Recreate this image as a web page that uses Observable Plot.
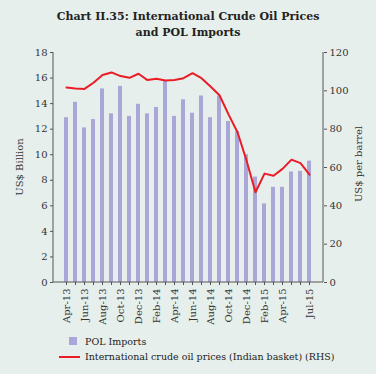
<!DOCTYPE html>
<html><head><meta charset="utf-8">
<script src="https://cdn.jsdelivr.net/npm/d3@7"></script>
<script src="https://cdn.jsdelivr.net/npm/@observablehq/plot@0.6"></script>
<style>
body{margin:0;background:#e7efec;}
#wrap{width:376px;height:374px;position:relative;background:#e7efec;font-family:"DejaVu Serif",serif;color:#222;overflow:hidden;}
#title{height:44px;box-sizing:border-box;padding-top:9px;text-align:center;font-weight:bold;font-size:11px;line-height:16px;}
#chart svg{display:block;}
.leg{position:absolute;left:85px;font-size:9.5px;line-height:12px;white-space:nowrap;}
.sw{position:absolute;}
.ylab{position:absolute;font-size:10px;line-height:12px;white-space:nowrap;transform:translate(-50%,-50%) rotate(-90deg);color:#333;}
</style>
</head><body>
<div id="wrap">
<div id="title">Chart II.35: International Crude Oil Prices<br>and POL Imports</div>
<div id="chart"></div>
<div class="ylab" style="left:20px;top:167px;">US$ Billion</div>
<div class="ylab" style="left:359px;top:164px;">US$ per barrel</div>
<div class="sw" style="left:69px;top:337px;width:8px;height:8px;background:#aaa7d8;"></div>
<div class="leg" style="top:336px;">POL Imports</div>
<div class="sw" style="left:59px;top:356px;width:21px;height:2px;background:#ea1c26;"></div>
<div class="leg" style="top:351px;">International crude oil prices (Indian basket) (RHS)</div>
</div>
<script>
const months = ["Apr-13","May-13","Jun-13","Jul-13","Aug-13","Sep-13","Oct-13","Nov-13","Dec-13","Jan-14","Feb-14","Mar-14",
"Apr-14","May-14","Jun-14","Jul-14","Aug-14","Sep-14","Oct-14","Nov-14","Dec-14","Jan-15","Feb-15","Mar-15","Apr-15","May-15","Jun-15","Jul-15"];
const polImports = [12.9,14.1,12.1,12.75,15.15,13.2,15.35,13.0,13.95,13.2,13.7,15.75,13.0,14.3,13.25,14.6,12.9,14.6,12.6,11.8,10.0,8.25,6.15,7.45,7.45,8.65,8.7,9.5];
const crudePrice = [101.7,101.2,101.0,104.2,108.3,109.6,107.7,106.8,108.9,105.6,106.3,105.4,105.6,106.6,109.2,106.6,102.3,97.7,87.7,78.4,63.7,47.1,56.8,55.7,59.3,64.1,62.3,56.3];
const tickLabels = ["Apr-13","Jun-13","Aug-13","Oct-13","Dec-13","Feb-14","Apr-14","Jun-14","Aug-14","Oct-14","Dec-14","Feb-15","Apr-15","Jul-15"];
const leftTicks = [0,2,4,6,8,10,12,14,16,18];
const rightTicks = [0,20,40,60,80,100,120];

const k = 18/120;
const data = months.map((m,i)=>({month:m, pol:polImports[i], price:crudePrice[i]}));

const chart = Plot.plot({
  width:376, height:290,
  marginLeft:53, marginRight:53, marginTop:8, marginBottom:52,
  style:{fontFamily:"DejaVu Serif", fontSize:"10px", background:"transparent", color:"#333"},
  x:{domain:months, paddingInner:0.55, paddingOuter:0.45},
  y:{domain:[0,18]},
  marks:[
    Plot.barY(data,{x:"month", y:"pol", fill:"#aaa7d8"}),
    Plot.lineY(data,{x:"month", y:d=>d.price*k, stroke:"#ea1c26", strokeWidth:2}),
    Plot.axisX({ticks:months, tickFormat:d=>tickLabels.includes(d)?d:"", tickRotate:-90, tickSize:3, tickPadding:3, label:null, stroke:"#555"}),
    Plot.axisY({anchor:"left", ticks:leftTicks, tickSize:3, tickPadding:3, label:null, stroke:"#555"}),
    Plot.axisY({anchor:"right", ticks:rightTicks.map(t=>t*k), tickFormat:d=>Math.round(d/k), tickSize:3, tickPadding:3, label:null, stroke:"#555"})
  ]
});
const sx = chart.scale("x"), sy = chart.scale("y");
const svg = d3.select(chart);
const [x0,x1] = sx.range, [y0,y1] = sy.range;
svg.append("line").attr("x1",x0).attr("x2",x0).attr("y1",y0).attr("y2",y1).attr("stroke","#555");
svg.append("line").attr("x1",x1).attr("x2",x1).attr("y1",y0).attr("y2",y1).attr("stroke","#555");
svg.append("line").attr("x1",x0).attr("x2",x1).attr("y1",y0).attr("y2",y0).attr("stroke","#555");
document.getElementById("chart").appendChild(chart);
</script>
</body></html>
